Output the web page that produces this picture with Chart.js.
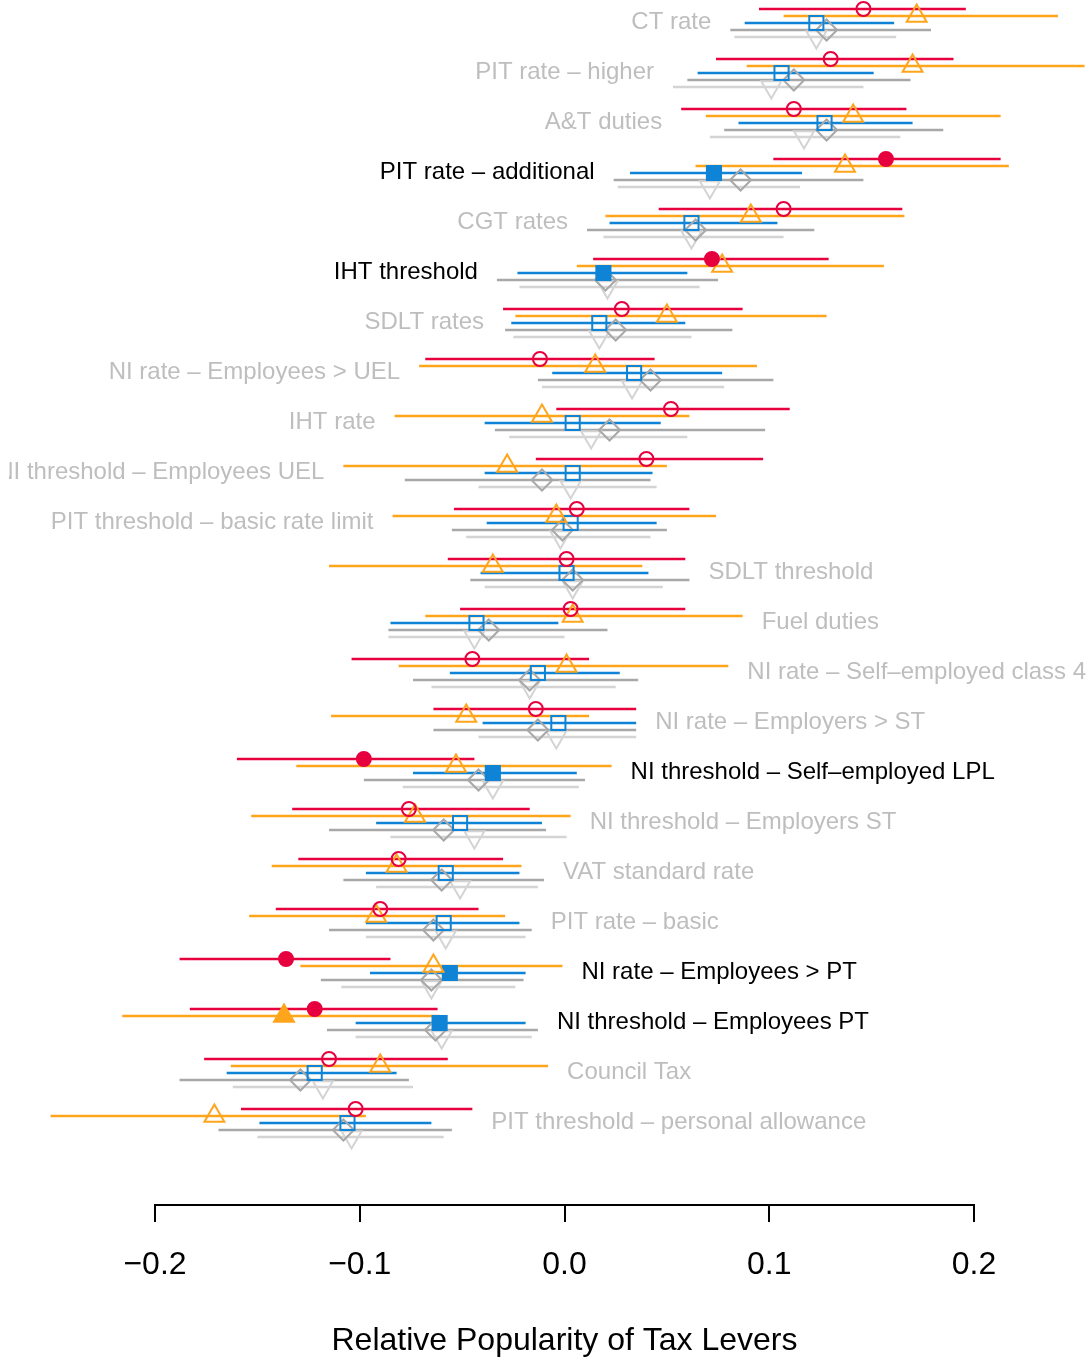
<!DOCTYPE html>
<html>
<head>
<meta charset="utf-8">
<script src="https://cdn.jsdelivr.net/npm/chart.js@4/dist/chart.umd.min.js"></script>
<style>
  html, body { margin: 0; padding: 0; background: #ffffff; }
  canvas { display: block; }
</style>
</head>
<body>
<canvas id="chart" width="1092" height="1357"></canvas>
<script>
// Tax levers, top to bottom
const levers = [
  'CT rate',
  'PIT rate \u2013 higher',
  'A&T duties',
  'PIT rate \u2013 additional',
  'CGT rates',
  'IHT threshold',
  'SDLT rates',
  'NI rate \u2013 Employees > UEL',
  'IHT rate',
  'NI threshold \u2013 Employees UEL',
  'PIT threshold \u2013 basic rate limit',
  'SDLT threshold',
  'Fuel duties',
  'NI rate \u2013 Self\u2013employed class 4',
  'NI rate \u2013 Employers > ST',
  'NI threshold \u2013 Self\u2013employed LPL',
  'NI threshold \u2013 Employers ST',
  'VAT standard rate',
  'PIT rate \u2013 basic',
  'NI rate \u2013 Employees > PT',
  'NI threshold \u2013 Employees PT',
  'Council Tax',
  'PIT threshold \u2013 personal allowance'
];

// Series 1 (red circles)
const est1 = [0.146, 0.130, 0.112, 0.157, 0.107, 0.072, 0.028, -0.012, 0.052, 0.040, 0.006, 0.001, 0.003, -0.045, -0.014, -0.098, -0.076, -0.081, -0.090, -0.136, -0.122, -0.115, -0.102];
const lo1  = [0.095, 0.074, 0.057, 0.102, 0.046, 0.014, -0.030, -0.068, -0.004, -0.014, -0.054, -0.057, -0.051, -0.104, -0.064, -0.160, -0.133, -0.130, -0.141, -0.188, -0.183, -0.176, -0.158];
const hi1  = [0.196, 0.190, 0.167, 0.213, 0.165, 0.129, 0.087, 0.044, 0.110, 0.097, 0.061, 0.059, 0.059, 0.012, 0.035, -0.044, -0.017, -0.030, -0.042, -0.085, -0.062, -0.057, -0.045];
const sig1 = [0, 0, 0, 1, 0, 1, 0, 0, 0, 0, 0, 0, 0, 0, 0, 1, 0, 0, 0, 1, 1, 0, 0];

// Series 2 (orange triangles)
const est2 = [0.172, 0.170, 0.141, 0.137, 0.091, 0.077, 0.050, 0.015, -0.011, -0.028, -0.004, -0.035, 0.004, 0.001, -0.048, -0.053, -0.073, -0.082, -0.092, -0.064, -0.137, -0.090, -0.171];
const lo2  = [0.107, 0.089, 0.069, 0.064, 0.020, 0.006, -0.024, -0.071, -0.083, -0.108, -0.084, -0.115, -0.068, -0.081, -0.114, -0.131, -0.153, -0.143, -0.154, -0.129, -0.216, -0.163, -0.251];
const hi2  = [0.241, 0.254, 0.213, 0.217, 0.166, 0.156, 0.128, 0.094, 0.061, 0.050, 0.074, 0.038, 0.087, 0.080, 0.012, 0.023, 0.003, -0.021, -0.029, -0.001, -0.061, -0.008, -0.097];
const sig2 = [0, 0, 0, 0, 0, 0, 0, 0, 0, 0, 0, 0, 0, 0, 0, 0, 0, 0, 0, 0, 1, 0, 0];

// Series 3 (blue squares)
const est3 = [0.123, 0.106, 0.127, 0.073, 0.062, 0.019, 0.017, 0.034, 0.004, 0.004, 0.003, 0.001, -0.043, -0.013, -0.003, -0.035, -0.051, -0.058, -0.059, -0.056, -0.061, -0.122, -0.106];
const lo3  = [0.088, 0.065, 0.085, 0.032, 0.022, -0.023, -0.026, -0.006, -0.039, -0.039, -0.038, -0.041, -0.085, -0.056, -0.040, -0.074, -0.092, -0.097, -0.097, -0.095, -0.102, -0.165, -0.149];
const hi3  = [0.161, 0.151, 0.170, 0.116, 0.104, 0.060, 0.059, 0.077, 0.047, 0.043, 0.045, 0.041, -0.003, 0.027, 0.035, 0.006, -0.011, -0.022, -0.022, -0.019, -0.019, -0.082, -0.065];
const sig3 = [0, 0, 0, 1, 0, 1, 0, 0, 0, 0, 0, 0, 0, 0, 0, 1, 0, 0, 0, 1, 1, 0, 0];

// Series 4 (grey diamonds)
const est4 = [0.128, 0.112, 0.128, 0.086, 0.064, 0.020, 0.025, 0.042, 0.022, -0.011, -0.001, 0.004, -0.037, -0.017, -0.013, -0.042, -0.059, -0.060, -0.064, -0.065, -0.063, -0.129, -0.108];
const lo4  = [0.081, 0.060, 0.078, 0.024, 0.011, -0.033, -0.029, -0.013, -0.034, -0.078, -0.055, -0.046, -0.086, -0.074, -0.064, -0.098, -0.115, -0.108, -0.115, -0.119, -0.116, -0.188, -0.169];
const hi4  = [0.179, 0.169, 0.185, 0.146, 0.122, 0.075, 0.082, 0.102, 0.098, 0.042, 0.050, 0.061, 0.021, 0.036, 0.035, 0.010, -0.009, -0.010, -0.016, -0.020, -0.013, -0.076, -0.055];
const sig4 = [0, 0, 0, 0, 0, 0, 0, 0, 0, 0, 0, 0, 0, 0, 0, 0, 0, 0, 0, 0, 0, 0, 0];

// Series 5 (light grey inverted triangles)
const est5 = [0.123, 0.101, 0.117, 0.071, 0.062, 0.021, 0.017, 0.033, 0.013, 0.003, -0.002, 0.004, -0.044, -0.017, -0.004, -0.035, -0.044, -0.051, -0.058, -0.065, -0.060, -0.118, -0.104];
const lo5  = [0.083, 0.053, 0.071, 0.026, 0.019, -0.022, -0.025, -0.011, -0.027, -0.042, -0.048, -0.039, -0.086, -0.065, -0.042, -0.079, -0.085, -0.092, -0.097, -0.109, -0.102, -0.162, -0.150];
const hi5  = [0.162, 0.146, 0.164, 0.115, 0.107, 0.066, 0.062, 0.078, 0.060, 0.045, 0.042, 0.048, 0.000, 0.025, 0.035, 0.007, 0.001, -0.013, -0.019, -0.024, -0.016, -0.074, -0.059];
const sig5 = [0, 0, 0, 0, 0, 0, 0, 0, 0, 0, 0, 0, 0, 0, 0, 0, 0, 0, 0, 0, 0, 0, 0];

const FONT = '"Liberation Sans", Arial, Helvetica, sans-serif';

// Marker style and vertical dodge (in rows) for each series
const series = [
  { est: est1, lo: lo1, hi: hi1, sig: sig1, color: '#E6003E', style: 'circle',   radius: 7,    rotation: 0,   dodge: -0.28 },
  { est: est2, lo: lo2, hi: hi2, sig: sig2, color: '#FFA51C', style: 'triangle', radius: 11.5, rotation: 0,   dodge: -0.14 },
  { est: est3, lo: lo3, hi: hi3, sig: sig3, color: '#0F84D6', style: 'rect',     radius: 10,   rotation: 0,   dodge: 0 },
  { est: est4, lo: lo4, hi: hi4, sig: sig4, color: '#A8A8A8', style: 'rectRot',  radius: 10.5, rotation: 0,   dodge: 0.14 },
  { est: est5, lo: lo5, hi: hi5, sig: sig5, color: '#D4D4D4', style: 'triangle', radius: 11.5, rotation: 180, dodge: 0.28 }
];

const datasets = [];
// Interval lines
series.forEach(s => {
  levers.forEach((_, i) => {
    datasets.push({
      type: 'scatter',
      showLine: true,
      data: [{ x: s.lo[i], y: i + s.dodge }, { x: s.hi[i], y: i + s.dodge }],
      borderColor: s.color,
      borderWidth: 2.5,
      pointRadius: 0,
      pointHoverRadius: 0,
      clip: false,
      order: 2
    });
  });
});
// Point estimates (filled when flagged)
series.forEach(s => {
  datasets.push({
    type: 'scatter',
    data: s.est.map((v, i) => ({ x: v, y: i + s.dodge })),
    pointStyle: s.style,
    pointRadius: s.radius,
    pointHoverRadius: s.radius,
    pointRotation: s.rotation,
    pointBorderColor: s.color,
    pointBorderWidth: 2,
    pointBackgroundColor: s.sig.map(f => f ? s.color : 'rgba(0,0,0,0)'),
    clip: false,
    order: 1
  });
});

// Lever names beside each row: left of the intervals in the upper half, right of them in the lower half
const rowLabels = {
  id: 'rowLabels',
  afterDatasetsDraw(chart) {
    const { ctx, scales: { x, y } } = chart;
    const half = Math.floor(levers.length / 2);
    ctx.save();
    ctx.beginPath();
    ctx.rect(9, 0, chart.width - 9, chart.height);
    ctx.clip();
    ctx.font = '24px ' + FONT;
    ctx.textBaseline = 'middle';
    levers.forEach((name, i) => {
      const lows = series.map(s => s.lo[i]);
      const highs = series.map(s => s.hi[i]);
      const flagged = series.some(s => s.sig[i]);
      const py = y.getPixelForValue(i) - 1;
      ctx.fillStyle = flagged ? '#000000' : '#BEBEBE';
      if (i < half) {
        ctx.textAlign = 'right';
        ctx.fillText(name, x.getPixelForValue(Math.min(...lows)) - 19, py);
      } else {
        ctx.textAlign = 'left';
        ctx.fillText(name, x.getPixelForValue(Math.max(...highs)) + 19, py);
      }
    });
    ctx.restore();
  }
};

new Chart(document.getElementById('chart'), {
  type: 'scatter',
  data: { datasets },
  plugins: [rowLabels],
  options: {
    responsive: false,
    animation: false,
    devicePixelRatio: 1,
    layout: { autoPadding: false, padding: { left: 155, right: 118, top: 0, bottom: 0 } },
    plugins: { legend: { display: false }, tooltip: { enabled: false } },
    scales: {
      x: {
        type: 'linear',
        position: 'bottom',
        min: -0.2,
        max: 0.2,
        afterFit: scale => { scale.height = 152; },
        ticks: {
          stepSize: 0.1,
          color: '#000000',
          padding: 24,
          maxRotation: 0,
          font: { family: FONT, size: 32 },
          callback: value => {
            const v = Math.round(value * 10) / 10;
            return (v < 0 ? '\u2212' : '') + Math.abs(v).toFixed(1);
          }
        },
        grid: {
          display: true,
          drawOnChartArea: false,
          drawTicks: true,
          tickLength: 17,
          color: '#000000',
          lineWidth: 2
        },
        border: { display: true, color: '#000000', width: 2 },
        title: {
          display: true,
          text: 'Relative Popularity of Tax Levers',
          color: '#000000',
          font: { family: FONT, size: 32, lineHeight: 1 },
          padding: { top: 0, bottom: 0 }
        }
      },
      y: {
        type: 'linear',
        display: false,
        reverse: true,
        min: -0.46,
        max: 23.64
      }
    }
  }
});
</script>
</body>
</html>
